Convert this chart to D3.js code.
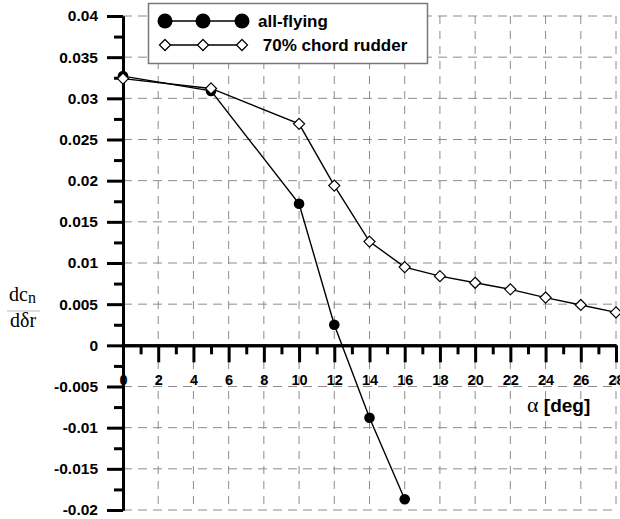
<!DOCTYPE html>
<html>
<head>
<meta charset="utf-8">
<script src="https://cdn.jsdelivr.net/npm/d3@7"></script>
<style>
  body { margin: 0; background: #fff; }
  svg { display: block; }
</style>
</head>
<body>
<div id="chart"></div>
<script>
// data
const alpha = [0, 5, 10, 12, 14, 16, 18, 20, 22, 24, 26, 28];
const allFlyingAlpha = [0, 5, 10, 12, 14, 16];
const allFlying = [0.0327, 0.0309, 0.0172, 0.0025, -0.0088, -0.0187];
const chord70 = [0.0324, 0.0312, 0.0269, 0.0194, 0.0126, 0.0095, 0.0084, 0.0076, 0.0068, 0.0058, 0.0049, 0.0040];
const seriesNames = ["all-flying", " 70% chord rudder"];

const xTicks = [0, 2, 4, 6, 8, 10, 12, 14, 16, 18, 20, 22, 24, 26, 28];
const xMinor = [1, 3, 5, 7, 9, 11, 13, 15, 17, 19, 21, 23, 25, 27];
const yTicks = [-0.02, -0.015, -0.01, -0.005, 0, 0.005, 0.01, 0.015, 0.02, 0.025, 0.03, 0.035, 0.04];
const yTickLabels = ["-0.02", "-0.015", "-0.01", "-0.005", "0", "0.005", "0.01", "0.015", "0.02", "0.025", "0.03", "0.035", "0.04"];
const yMinor = [-0.0175, -0.0125, -0.0075, -0.0025, 0.0025, 0.0075, 0.0125, 0.0175, 0.0225, 0.0275, 0.0325, 0.0375];

const W = 620, H = 519;
const plotL = 123, plotR = 616, plotT = 16, plotB = 510;

const x = d3.scaleLinear().domain([0, 28]).range([plotL, plotR]);
const y = d3.scaleLinear().domain([-0.02, 0.04]).range([plotB, plotT]);

const svg = d3.select('#chart').append('svg')
    .attr('width', W)
    .attr('height', H);

const sans = "Arial, 'Liberation Sans', Helvetica, sans-serif";
const serif = "'Times New Roman', 'Liberation Serif', serif";

// grid
const grid = svg.append('g').attr('class', 'grid')
    .attr('stroke', '#8c8c8c').attr('stroke-width', 1).attr('fill', 'none');
grid.selectAll('line.v').data(xTicks.filter(d => d > 0)).enter().append('line')
    .attr('class', 'v')
    .attr('x1', d => x(d)).attr('x2', d => x(d))
    .attr('y1', plotT).attr('y2', plotB)
    .attr('stroke-dasharray', '8,7');
grid.selectAll('line.h').data(yTicks).enter().append('line')
    .attr('class', 'h')
    .attr('x1', plotL).attr('x2', plotR)
    .attr('y1', d => y(d)).attr('y2', d => y(d))
    .attr('stroke-dasharray', '9,6');

// lines
const line = d3.line()
    .x(d => x(d[0]))
    .y(d => y(d[1]));

const s1 = allFlyingAlpha.map((a, i) => [a, allFlying[i]]);
const s2 = alpha.map((a, i) => [a, chord70[i]]);

svg.append('path').datum(s1)
    .attr('d', line).attr('fill', 'none').attr('stroke', '#000').attr('stroke-width', 1.4);
svg.append('path').datum(s2)
    .attr('d', line).attr('fill', 'none').attr('stroke', '#000').attr('stroke-width', 1.4);

// axes
const yAxis = svg.append('g')
    .attr('transform', 'translate(' + plotL + ',0)')
    .call(d3.axisLeft(y).tickValues(yTicks).tickSize(16).tickSizeOuter(0).tickPadding(9)
        .tickFormat((d, i) => yTickLabels[i]));
svg.append('g')
    .attr('transform', 'translate(' + plotL + ',0)')
    .call(d3.axisLeft(y).tickValues(yMinor).tickSize(9).tickSizeOuter(0).tickFormat(''));

svg.append('g')
    .attr('transform', 'translate(0,' + y(0) + ')')
    .call(d3.axisBottom(x).tickValues(xMinor).tickSize(9).tickSizeOuter(0).tickFormat(''));
const xAxis = svg.append('g')
    .attr('transform', 'translate(0,' + y(0) + ')')
    .call(d3.axisBottom(x).tickValues(xTicks).tickSize(17).tickSizeOuter(0).tickPadding(12));

svg.selectAll('.domain').attr('stroke', '#000').attr('stroke-width', 3);
svg.selectAll('.tick line').attr('stroke', '#000').attr('stroke-width', 3);
svg.selectAll('.tick text')
    .attr('fill', '#000')
    .style('font-family', sans)
    .style('font-weight', 'bold');
yAxis.selectAll('.tick text').style('font-size', '15.5px');
xAxis.selectAll('.tick text').style('font-size', '14.5px');

// markers
const diamond = d3.symbol().type(d3.symbolDiamond2).size(78);

svg.selectAll('circle.pt').data(s1).enter().append('circle')
    .attr('class', 'pt')
    .attr('cx', d => x(d[0])).attr('cy', d => y(d[1]))
    .attr('r', 5.3).attr('fill', '#000');

svg.selectAll('path.dm').data(s2).enter().append('path')
    .attr('class', 'dm')
    .attr('transform', d => 'translate(' + x(d[0]) + ',' + y(d[1]) + ')')
    .attr('d', diamond)
    .attr('fill', '#fff').attr('stroke', '#000').attr('stroke-width', 1.2);

// axis labels
const xl = svg.append('text')
    .attr('x', 527).attr('y', 412)
    .attr('fill', '#000');
xl.append('tspan').style('font-family', serif).style('font-size', '22px').text('α');
xl.append('tspan').style('font-family', sans).style('font-weight', 'bold').style('font-size', '19px').text(' [deg]');

const yl = svg.append('g');
const num = yl.append('text').attr('x', 9).attr('y', 301)
    .style('font-family', serif).style('font-size', '20px').attr('fill', '#000');
num.append('tspan').text('dc');
num.append('tspan').attr('dy', 2).style('font-size', '16px').text('n');
yl.append('line').attr('x1', 7).attr('x2', 40).attr('y1', 311).attr('y2', 311)
    .attr('stroke', '#bbb').attr('stroke-width', 1);
yl.append('text').attr('x', 10).attr('y', 327)
    .style('font-family', serif).style('font-size', '20px').attr('fill', '#000')
    .text('dδr');

// legend
const lg = svg.append('g');
lg.append('rect').attr('x', 148.5).attr('y', 3.5).attr('width', 279).attr('height', 60)
    .attr('fill', '#fff').attr('stroke', '#777').attr('stroke-width', 1.5);
const lx = [165, 203, 242];
const rows = [21, 45];

lg.append('line').attr('x1', lx[0]).attr('x2', lx[2]).attr('y1', rows[0]).attr('y2', rows[0])
    .attr('stroke', '#000').attr('stroke-width', 1.4);
lg.selectAll('circle').data(lx).enter().append('circle')
    .attr('cx', d => d).attr('cy', rows[0]).attr('r', 7.5).attr('fill', '#000');
lg.append('line').attr('x1', lx[0]).attr('x2', lx[2]).attr('y1', rows[1]).attr('y2', rows[1])
    .attr('stroke', '#000').attr('stroke-width', 1.4);
lg.selectAll('path.ld').data(lx).enter().append('path')
    .attr('class', 'ld')
    .attr('transform', d => 'translate(' + d + ',' + rows[1] + ')')
    .attr('d', diamond)
    .attr('fill', '#fff').attr('stroke', '#000').attr('stroke-width', 1.2);

lg.selectAll('text').data(seriesNames).enter().append('text')
    .attr('x', 258).attr('y', (d, i) => rows[i] + 6)
    .style('white-space', 'pre')
    .style('font-family', sans).style('font-weight', 'bold').style('font-size', '17px')
    .attr('fill', '#000')
    .text(d => d);
</script>
</body>
</html>
